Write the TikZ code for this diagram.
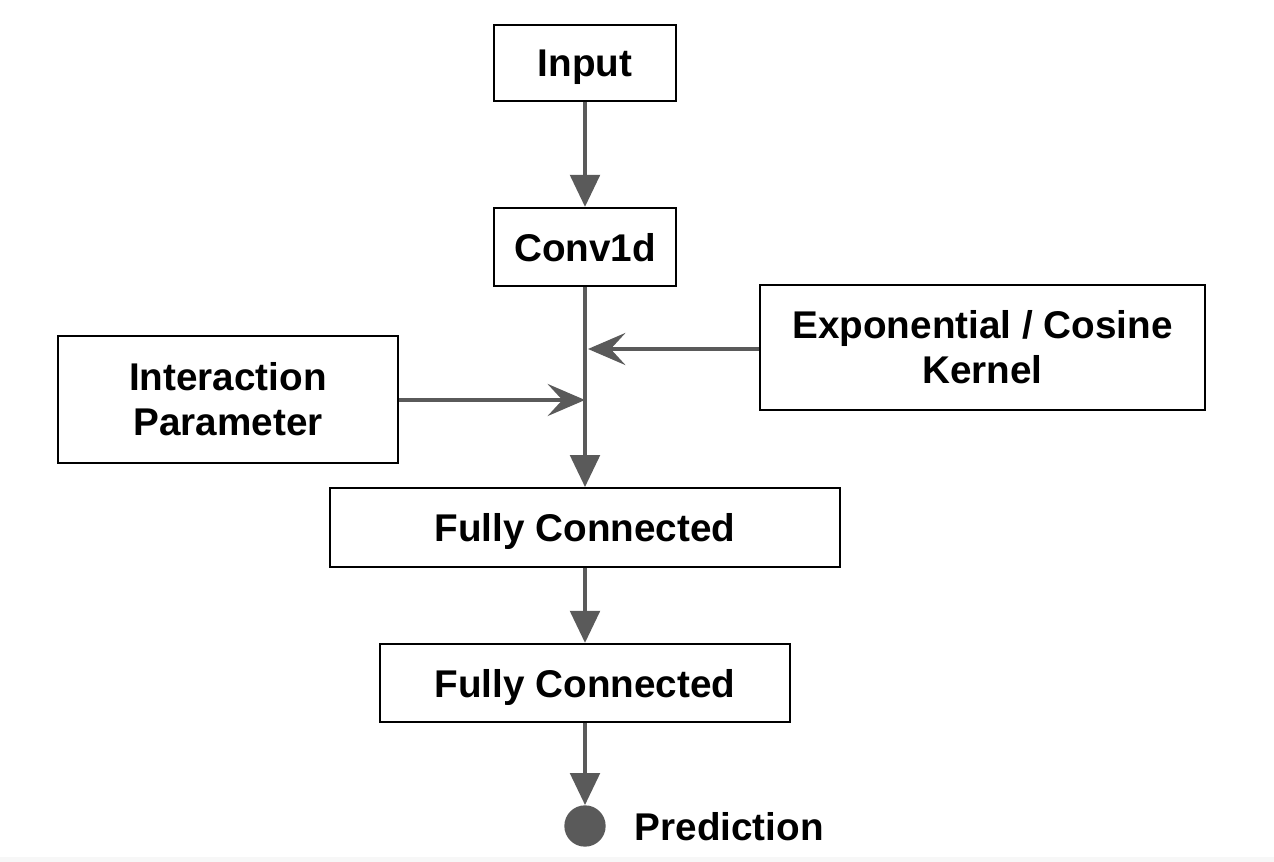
\documentclass[tikz,border=0pt]{standalone}
\usepackage{fontspec}
\setmainfont{Liberation Sans}
\usetikzlibrary{arrows.meta}
\definecolor{linegray}{HTML}{5A5A5A}
\definecolor{bandgray}{HTML}{F7F7F7}
\tikzset{
  blk/.style={draw=black, line width=1.6pt, fill=white, align=center, inner sep=0pt,
    font=\fontsize{29}{34}\selectfont\bfseries},
  oneline/.style={text depth=0pt},
  down/.style={draw=linegray, line width=3.2pt, -{Triangle[length=24pt,width=22pt]}},
  side/.style={draw=linegray, line width=3.2pt, -{Stealth[length=28pt,width=24pt,inset=11pt]}},
  plain/.style={draw=linegray, line width=3.2pt}
}
\begin{document}
\begin{tikzpicture}[x=0.75pt,y=-0.75pt]
\useasboundingbox (0,0) rectangle (1274,862);
\fill[white] (0,0) rectangle (1274,862);
\fill[bandgray] (0,857) rectangle (1274,862);
\node[blk, oneline, minimum width=136.5pt, minimum height=57pt] (in) at (585,63) {Input};
\node[blk, oneline, minimum width=136.5pt, minimum height=58.5pt] (conv) at (585,247) {Conv1d};
\node[blk, minimum width=334pt, minimum height=94pt] (kern) at (982.5,347.5) {Exponential / Cosine\\[0pt]Kernel};
\node[blk, minimum width=255pt, minimum height=95pt] (inter) at (228,399.5) {Interaction\\[0pt]Parameter};
\node[blk, oneline, minimum width=382.5pt, minimum height=59pt] (fc1) at (585,527.5) {Fully Connected};
\node[blk, oneline, minimum width=307.5pt, minimum height=58.5pt] (fc2) at (585,683) {Fully Connected};
\node[circle, fill=linegray, minimum size=31pt, inner sep=0pt] (pred) at (585,826) {};
\node[font=\fontsize{29}{34}\selectfont\bfseries, anchor=west] (predl) at (630,827) {Prediction};
\coordinate (j1) at (588,349);
\coordinate (j2) at (585,400);
\draw[down] (in) -- (conv);
\draw[down] (conv) -- (fc1);
\draw[side] (kern.west |- j1) -- (j1);
\draw[side] (inter.east |- j2) -- (j2);
\draw[down] (fc1) -- (fc2);
\draw[down] (fc2) -- (pred);
\end{tikzpicture}
\end{document}
